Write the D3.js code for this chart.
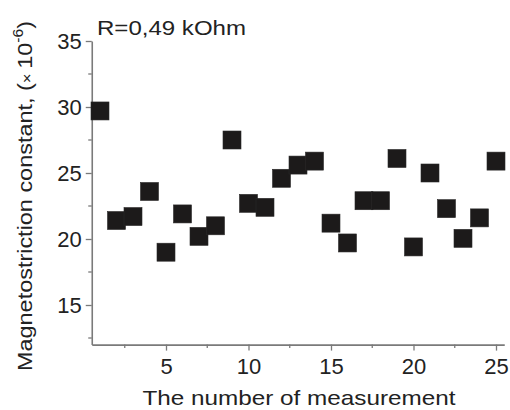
<!DOCTYPE html>
<html>
<head>
<meta charset="utf-8">
<script src="https://cdn.jsdelivr.net/npm/d3@7"></script>
<style>
	body { margin: 0; background: #fff; }
	svg text { font-family: Arial, "Liberation Sans", sans-serif; fill: #222; }
</style>
</head>
<body>
<svg id="chart" width="510" height="410"></svg>
<script>
// DATA
const measurement = d3.range(1, 26)
const lambda = [29.7, 21.4, 21.7, 23.6, 19.0, 21.9, 20.2, 21.0, 27.5, 22.7, 22.4, 24.6, 25.6, 25.9, 21.2, 19.7, 22.9, 22.9, 26.1, 19.4, 25.0, 22.3, 20.05, 21.6, 25.9]
const xMajor = [5, 10, 15, 20, 25]
const xMinor = [2.5, 7.5, 12.5, 17.5, 22.5]
const yMajor = [15, 20, 25, 30, 35]
const yMinor = [12.5, 17.5, 22.5, 27.5, 32.5]

const width = 510
const height = 410
const margin = { top: 41, right: 5.75, bottom: 65.4, left: 91.75 }

const svg = d3.select('#chart')

const x = d3.scaleLinear().domain([0.5, 25.5]).range([margin.left, width - margin.right])
const y = d3.scaleLinear().domain([12, 35]).range([height - margin.bottom, margin.top])

const axisColor = '#7a7a7a'

// X AXIS
const gx = svg.append('g').attr('transform', `translate(0,${height - margin.bottom})`)
gx.call(d3.axisBottom(x).tickValues(xMajor).tickSize(6).tickSizeOuter(0).tickPadding(6))
gx.append('g').selectAll('line').data(xMinor).join('line')
	.attr('x1', d => x(d)).attr('x2', d => x(d)).attr('y1', 0).attr('y2', 3.5)
	.attr('stroke', axisColor).attr('stroke-width', 1.3)

// Y AXIS
const gy = svg.append('g').attr('transform', `translate(${margin.left},0)`)
gy.call(d3.axisLeft(y).tickValues(yMajor).tickSize(6).tickSizeOuter(0).tickPadding(4))
gy.append('g').selectAll('line').data(yMinor).join('line')
	.attr('x1', 0).attr('x2', -3.5).attr('y1', d => y(d)).attr('y2', d => y(d))
	.attr('stroke', axisColor).attr('stroke-width', 1.3)

svg.selectAll('.domain').attr('stroke', axisColor).attr('stroke-width', 1.6)
svg.selectAll('.tick line').attr('stroke', axisColor).attr('stroke-width', 1.3)
svg.selectAll('.tick text').attr('font-size', 22).style('fill', '#222')
gx.selectAll('.tick text').attr('dy', '0.78em')

// POINTS
const sq = 18
svg.append('g').selectAll('rect').data(measurement).join('rect')
	.attr('x', (d, i) => x(d) - sq / 2)
	.attr('y', (d, i) => y(lambda[i]) - sq / 2)
	.attr('width', sq).attr('height', sq)
	.attr('fill', '#1c1a1a')
	.attr('stroke', '#2a2828').attr('stroke-width', 0.6)

// LABELS
svg.append('text')
	.attr('x', 97).attr('y', 35)
	.attr('font-size', 21)
	.attr('textLength', 149).attr('lengthAdjust', 'spacingAndGlyphs')
	.text('R=0,49 kOhm')

svg.append('text')
	.attr('x', (margin.left + width - margin.right) / 2 + 1).attr('y', 405)
	.attr('text-anchor', 'middle')
	.attr('font-size', 21)
	.attr('textLength', 313).attr('lengthAdjust', 'spacingAndGlyphs')
	.text('The number of measurement')

const ylab = svg.append('text')
	.attr('transform', 'translate(32,196) rotate(-90)')
	.attr('text-anchor', 'middle')
	.attr('font-size', 21)
	.attr('textLength', 350).attr('lengthAdjust', 'spacingAndGlyphs')
ylab.append('tspan').text('Magnetostriction constant, (')
ylab.append('tspan').attr('font-size', 15).text('× ')
ylab.append('tspan').text('10')
ylab.append('tspan').attr('font-size', 14).attr('dy', -9).text('-6')
ylab.append('tspan').attr('dy', 9).text(')')
</script>
</body>
</html>
